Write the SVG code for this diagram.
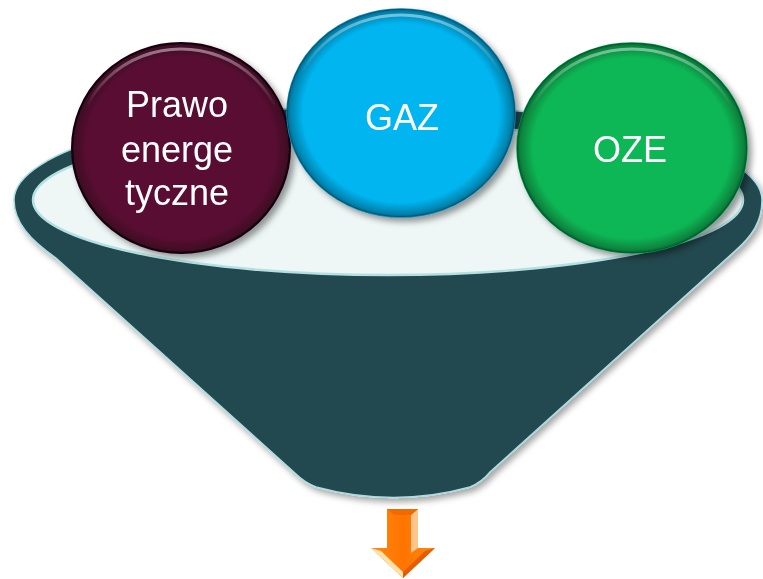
<svg xmlns="http://www.w3.org/2000/svg" width="763" height="579" viewBox="0 0 763 579">
<style>
.lbl{font-family:"Liberation Sans",Arial,sans-serif;font-size:36px;fill:#ffffff;text-anchor:middle}
</style>
<defs>
<filter id="sh" x="-10%" y="-10%" width="125%" height="125%">
<feDropShadow dx="3" dy="4" stdDeviation="3" flood-color="#000" flood-opacity="0.35"/>
</filter>
<filter id="shc" x="-10%" y="-10%" width="125%" height="125%">
<feDropShadow dx="4" dy="4" stdDeviation="3" flood-color="#000" flood-opacity="0.4"/>
</filter>
<radialGradient id="edge" cx="0.5" cy="0.5" r="0.5">
<stop offset="0.86" stop-color="#000" stop-opacity="0"/>
<stop offset="0.97" stop-color="#000" stop-opacity="0.28"/>
<stop offset="1" stop-color="#000" stop-opacity="0.45"/>
</radialGradient>
<linearGradient id="hl" x1="0" y1="0" x2="0" y2="1">
<stop offset="0" stop-color="#fff" stop-opacity="0.45"/>
<stop offset="0.3" stop-color="#fff" stop-opacity="0"/>
</linearGradient>
<linearGradient id="org" x1="0" y1="0" x2="1" y2="0">
<stop offset="0" stop-color="#ff8a10"/>
<stop offset="0.5" stop-color="#ff7400"/>
<stop offset="1" stop-color="#ff8a10"/>
</linearGradient>
</defs>
<rect width="763" height="579" fill="#ffffff"/>
<g id="funnel">
<path filter="url(#sh)" d="M 14,200 A 374 95 0 0 1 762,200 C 762,222 752,236 735,251 L 490,472 Q 482,482 470,487 Q 394,508 316,487 Q 304,482 296,474 L 56,258 C 30,240 14,222 14,200 Z" fill="#234a4f" stroke="#a9dde0" stroke-width="1.5"/>
<ellipse cx="388" cy="200" rx="355" ry="75" fill="#eef6f6" stroke="#b3e0e2" stroke-width="2.5"/>
</g>
<g id="node-prawo" filter="url(#shc)">
<ellipse cx="181" cy="148" rx="109" ry="105" fill="#5a0c33" stroke="#1a0510" stroke-width="2"/>
<ellipse cx="181" cy="148" rx="109" ry="105" fill="url(#edge)"/>
<ellipse cx="181" cy="149" rx="104" ry="100" fill="none" stroke="url(#hl)" stroke-width="3"/>
<text class="lbl" x="177" y="117">Prawo</text>
<text class="lbl" x="177" y="162">energe</text>
<text class="lbl" x="177" y="205">tyczne</text>
</g>
<g id="node-gaz" filter="url(#shc)">
<ellipse cx="401" cy="113" rx="114" ry="104" fill="#00b5f0" stroke="#0a86b5" stroke-width="1.5"/>
<ellipse cx="401" cy="113" rx="114" ry="104" fill="url(#edge)"/>
<ellipse cx="401" cy="114" rx="109" ry="99" fill="none" stroke="url(#hl)" stroke-width="3"/>
<text class="lbl" x="402" y="130">GAZ</text>
</g>
<g id="node-oze" filter="url(#shc)">
<ellipse cx="632" cy="148" rx="115" ry="105" fill="#0ab755" stroke="#06904a" stroke-width="1.5"/>
<ellipse cx="632" cy="148" rx="115" ry="105" fill="url(#edge)"/>
<ellipse cx="632" cy="149" rx="110" ry="100" fill="none" stroke="url(#hl)" stroke-width="3"/>
<text class="lbl" x="630" y="162">OZE</text>
</g>
<g id="arrow">
<polygon points="387,509 418,509 418,548 435,548 403,578 371,548 387,548" fill="url(#org)"/>
<polygon points="411,515 418,509 418,548 411,553" fill="#ffc68c"/>
<polygon points="387,509 418,509 411,515 394,515" fill="#f06a00"/>
<polygon points="371,548 381,551 403,572 403,578" fill="#ffe2a8"/>
<polygon points="435,548 425,551 403,572 403,578" fill="#e55d00"/>
</g>
</svg>
